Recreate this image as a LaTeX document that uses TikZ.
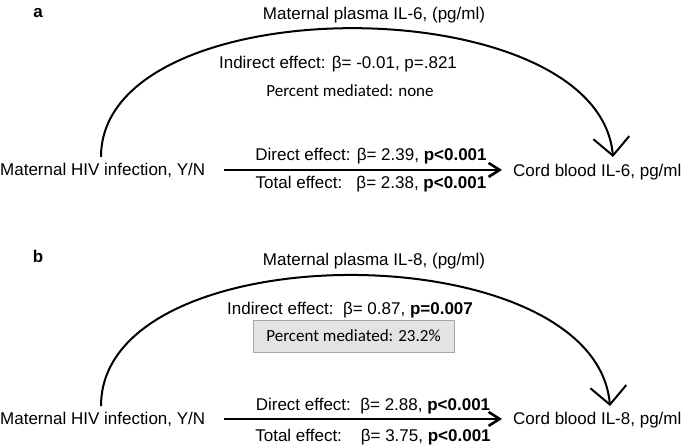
\documentclass[tikz,border=0pt]{standalone}
\usepackage{fontspec}
\setmainfont{Liberation Sans}
\newfontfamily\calib{Carlito}
\usetikzlibrary{positioning,arrows.meta}

\begin{document}
\begin{tikzpicture}[x=1pt,y=1pt,
    txt/.style={font=\fontsize{17}{20}\selectfont,inner sep=0pt,anchor=base},
    tag/.style={txt,font=\fontsize{17}{20}\selectfont\bfseries},
    pct/.style={font=\calib\fontsize{17}{20}\selectfont,inner sep=0pt,anchor=base},
    pctbox/.style={draw=gray!70,fill=gray!22,line width=0.8pt,minimum width=201pt,minimum height=32pt,
                   font=\calib\fontsize{17}{20}\selectfont,inner sep=0pt},
    eff/.style={line width=2.6pt,-{Straight Barb[length=11pt,width=14pt]},shorten <=19pt,shorten >=11pt},
    medarc/.style={line width=2pt,-{Straight Barb[length=18pt,width=36pt]}},
]
\useasboundingbox (0,0) rectangle (685,-445);

% panel a
\node[tag] (tagA) at (38,-17) {a};
\node[txt] (medA) at (374,-19) {Maternal plasma IL-6, (pg/ml)};
\node[txt] (indA) at (338,-68) {Indirect effect: β= -0.01, p=.821};
\node[pct] (pctA) at (350,-96) {Percent mediated: none};
\node[txt,anchor=base west] (hivA) at (0,-175) {Maternal HIV infection, Y/N};
\node[txt,anchor=base west] (cordA) at (513,-176) {Cord blood IL-6, pg/ml};
\node[txt] (dirA) at (371,-160) {Direct effect: β= 2.39, \textbf{p<0.001}};
\node[txt] (totA) at (371,-188) {Total effect:\ \ \ β= 2.38, \textbf{p<0.001}};
\coordinate (sA) at (101,-157);
\coordinate (tA) at (613,-157);
\draw[eff] (hivA.east) -- (hivA.east -| cordA.west);
\draw[medarc] (sA) to[out=90,in=95,looseness=0.86] (tA);

% panel b
\node[tag] (tagB) at (38,-262) {b};
\node[txt] (medB) at (374,-265) {Maternal plasma IL-8, (pg/ml)};
\node[txt] (indB) at (350,-314) {Indirect effect:\ \ β= 0.87, \textbf{p=0.007}};
\node[pctbox] (pctB) at (353.5,-336) {Percent mediated: 23.2\%};
\node[txt,anchor=base west] (hivB) at (0,-424) {Maternal HIV infection, Y/N};
\node[txt,anchor=base west] (cordB) at (513,-424) {Cord blood IL-8, pg/ml};
\node[txt] (dirB) at (373,-410) {Direct effect:\ \ β= 2.88, \textbf{p<0.001}};
\node[txt] (totB) at (373,-441) {Total effect:\ \ \ \ β= 3.75, \textbf{p<0.001}};
\coordinate (sB) at (101,-406);
\coordinate (tB) at (610,-406);
\draw[eff] (hivB.east) -- (hivB.east -| cordB.west);
\draw[medarc] (sB) to[out=90,in=95,looseness=0.88] (tB);
\end{tikzpicture}
\end{document}
